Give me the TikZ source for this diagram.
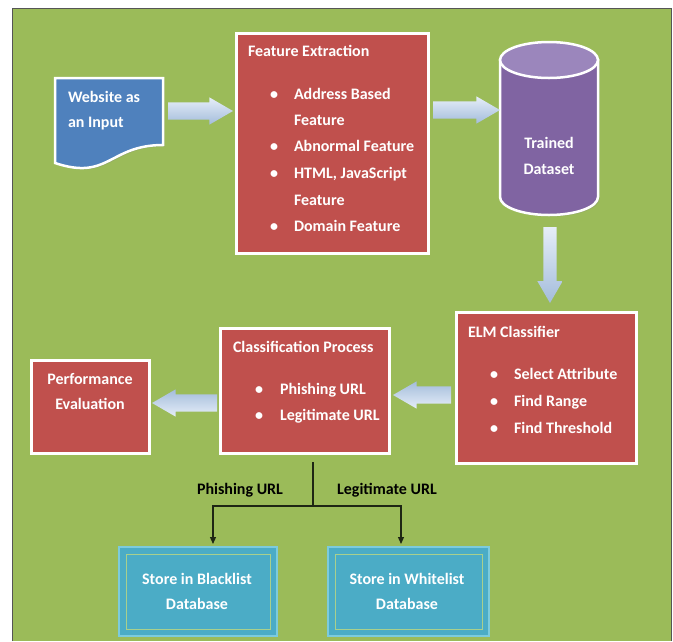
\documentclass[tikz,border=0pt]{standalone}
\usepackage{fontspec}
\setmainfont{Carlito}
\usetikzlibrary{shapes.arrows,shadows,calc,arrows.meta}
\definecolor{bggreen}{HTML}{9BBB59}
\definecolor{boxred}{HTML}{C0504D}
\definecolor{docblue}{HTML}{4F81BD}
\definecolor{cylpurple}{HTML}{8064A2}
\definecolor{cyltop}{HTML}{9B86BC}
\definecolor{dbcyan}{HTML}{4BACC6}
\definecolor{dbedge}{HTML}{7CCBDD}
\definecolor{dbinner}{HTML}{A8D08D}
\definecolor{arrowlight}{HTML}{E6EEF8}
\definecolor{arrowdark}{HTML}{A3BCDB}
\definecolor{treeline}{HTML}{1E2614}
\definecolor{framegray}{HTML}{555555}
\begin{document}
\begin{tikzpicture}[x=1pt,y=-1pt,
  every node/.style={inner sep=0pt, outer sep=0pt},
  lbl/.style={font=\fontsize{16}{18}\selectfont\bfseries, text=white},
  lblL/.style={lbl, anchor=mid west},
  lblC/.style={lbl, anchor=mid},
  blk/.style={font=\fontsize{16}{18}\selectfont\bfseries, text=black, anchor=mid},
  redbox/.style={rectangle, fill=boxred, draw=white, line width=3pt,
    drop shadow={opacity=0.3, shadow xshift=1.5pt, shadow yshift=-1.5pt}},
  dbbox/.style={rectangle, fill=dbcyan, draw=dbedge, line width=2pt},
  blockarrow/.style={single arrow, anchor=tail, inner xsep=0pt, inner ysep=8.5pt, minimum width=27pt,
    single arrow head extend=5pt, single arrow tip angle=60, single arrow head indent=0pt,
    top color=arrowlight, bottom color=arrowdark, draw=none},
  tree/.style={draw=treeline, line width=1.2pt},
  treearrow/.style={tree, -{Triangle[width=6pt,length=7pt]}},
]
\useasboundingbox (0,0) rectangle (673,641);
\fill[white] (0,0) rectangle (673,641);
\fill[bggreen] (12,8) rectangle (671,641);
\draw[framegray, line width=1pt] (12,641) -- (12,8) -- (671,8) -- (671,641);

% ---- Website as an Input (document shape)
\node[minimum width=108pt, minimum height=90pt] (web) at (109,123) {};
\fill[docblue, draw=white, line width=2.5pt, drop shadow={opacity=0.3, shadow xshift=1.5pt, shadow yshift=-1.5pt}]
  (55,78) -- (163,78) -- (163,145) .. controls (109,145) and (109,181) .. (55,163) -- cycle;
\node[lblL] (webA) at (68,100) {Website as};
\node[lblL] (webB) at (68,125) {an Input};

% ---- Feature Extraction
\node[redbox, minimum width=192pt, minimum height=220pt] (fe) at (332.5,143.5) {};
\node[lblL] (feT) at (248,54) {Feature Extraction};
\node[lblC] (feb1) at (274,97) {\textbullet};
\node[lblL] (fe1) at (294,97) {Address Based};
\node[lblL] (fe1b) at (294,123) {Feature};
\node[lblC] (feb2) at (274,149) {\textbullet};
\node[lblL] (fe2) at (294,149) {Abnormal Feature};
\node[lblC] (feb3) at (274,176) {\textbullet};
\node[lblL] (fe3) at (294,176) {HTML, JavaScript};
\node[lblL] (fe3b) at (294,203) {Feature};
\node[lblC] (feb4) at (274,229) {\textbullet};
\node[lblL] (fe4) at (294,229) {Domain Feature};

% ---- Trained Dataset (cylinder)
\node[minimum width=98pt, minimum height=173pt] (ds) at (549,128.5) {};
\path[fill=cylpurple, draw=white, line width=2.5pt, drop shadow={opacity=0.3, shadow xshift=1.5pt, shadow yshift=-1.5pt}]
  (500,60) -- (500,197) arc[start angle=180, end angle=0, x radius=49, y radius=18] -- (598,60) -- cycle;
\path[fill=cyltop, draw=white, line width=2.5pt] (549,60) ellipse[x radius=49, y radius=18];
\node[lblC] (dsA) at (549,146) {Trained};
\node[lblC] (dsB) at (549,172) {Dataset};

% ---- ELM Classifier
\node[redbox, minimum width=180pt, minimum height=151pt] (elm) at (546.5,388) {};
\node[lblL] (elmT) at (468,335) {ELM Classifier};
\node[lblC] (elmb1) at (494,377) {\textbullet};
\node[lblL] (elm1) at (514,377) {Select Attribute};
\node[lblC] (elmb2) at (494,404) {\textbullet};
\node[lblL] (elm2) at (514,404) {Find Range};
\node[lblC] (elmb3) at (494,431) {\textbullet};
\node[lblL] (elm3) at (514,431) {Find Threshold};

% ---- Classification Process
\node[redbox, minimum width=169pt, minimum height=125pt] (cp) at (305,391) {};
\node[lblL] (cpT) at (233,350) {Classification Process};
\node[lblC] (cpb1) at (259,392) {\textbullet};
\node[lblL] (cp1) at (280,392) {Phishing URL};
\node[lblC] (cpb2) at (259,418) {\textbullet};
\node[lblL] (cp2) at (280,418) {Legitimate URL};

% ---- Performance Evaluation
\node[redbox, minimum width=118pt, minimum height=93pt] (pe) at (90.5,407) {};
\node[lblC] (peA) at (90,382) {Performance};
\node[lblC] (peB) at (90,407) {Evaluation};

% ---- Databases
\node[dbbox, minimum width=158pt, minimum height=89pt] (bl) at (198,591.5) {};
\draw[dbinner, line width=1pt] ($(bl.north west)+(7,7)$) rectangle ($(bl.south east)+(-7,-7)$);
\node[lblC] (blA) at (197,582) {Store in Blacklist};
\node[lblC] (blB) at (197,607) {Database};
\node[dbbox, minimum width=161pt, minimum height=89pt] (wl) at (408.5,591.5) {};
\draw[dbinner, line width=1pt] ($(wl.north west)+(7,7)$) rectangle ($(wl.south east)+(-7,-7)$);
\node[lblC] (wlA) at (407,582) {Store in Whitelist};
\node[lblC] (wlB) at (407,607) {Database};

% ---- Block arrows (placed by their tails)
\node[blockarrow, minimum height=65pt] (a1) at (168,111) {};
\node[blockarrow, minimum height=67pt] (a2) at (433,110) {};
\node[blockarrow, minimum height=76pt, inner ysep=6.5pt, minimum width=25pt, single arrow head extend=6pt, rotate=-90] (a3) at (550,227) {};
\node[blockarrow, minimum height=58pt, rotate=180, top color=arrowdark, bottom color=arrowlight] (a4) at (451,395) {};
\node[blockarrow, minimum height=65pt, rotate=180, top color=arrowdark, bottom color=arrowlight] (a5) at (217,403) {};

% ---- Split tree
\coordinate (t0) at (313,462);
\coordinate (t1) at (313,506);
\coordinate (ba) at (213,544);
\coordinate (wa) at (401,544);
\draw[tree] (t0) -- (t1);
\draw[treearrow] (t1) -| (ba);
\draw[treearrow] (t1) -| (wa);
\node[blk] (phl) at (240,492) {Phishing URL};
\node[blk] (lgl) at (387,492) {Legitimate URL};
\end{tikzpicture}
\end{document}
